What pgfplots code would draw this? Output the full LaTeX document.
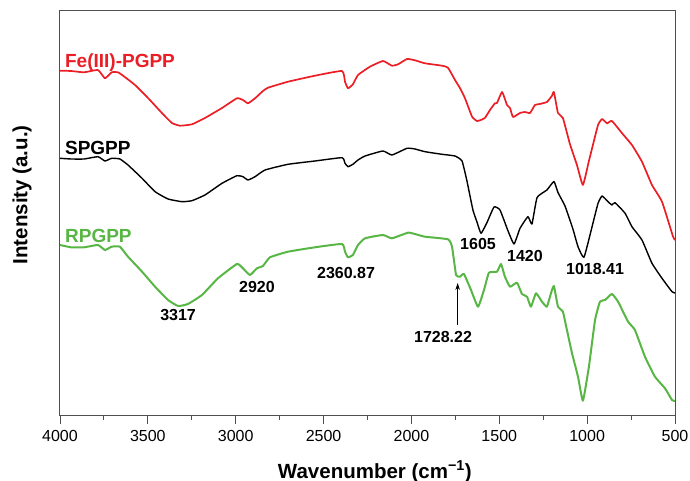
\documentclass[border=0pt]{standalone}
\usepackage{fontspec}
\setmainfont{Liberation Sans}
\usepackage{pgfplots}
\pgfplotsset{compat=1.18}
\usetikzlibrary{arrows.meta}
\definecolor{fered}{RGB}{235,30,38}
\definecolor{rgreen}{RGB}{88,182,68}
\definecolor{framegray}{RGB}{80,80,80}
\begin{document}
\begin{tikzpicture}
\path[use as bounding box] (0,0) rectangle (690pt,481pt);
\begin{axis}[
 at={(60pt,65pt)}, anchor=south west,
 width=615pt, height=405pt, scale only axis,
 xmin=500, xmax=4000, x dir=reverse,
 ymin=0, ymax=405,
 ytick=\empty,
 xtick={500,1000,...,4000},
 minor x tick num=1,
 xtick pos=bottom,
 tick align=outside,
 major tick length=8pt, minor tick length=4.5pt,
 axis line style={framegray, line width=1pt},
 every tick/.style={framegray, line width=0.9pt},
 /pgf/number format/assume math mode=true,
 /pgf/number format/1000 sep={},
 xticklabel style={font=\fontsize{16}{19}\selectfont, text=black, yshift=-3pt},
 xlabel={Wavenumber (cm\textsuperscript{−1})},
 ylabel={Intensity (a.u.)},
 label style={font=\bfseries\fontsize{20.5}{24}\selectfont},
 xlabel style={at={(axis description cs:0.512,-0.137)}, anchor=center},
 ylabel style={at={(axis description cs:-0.0618,0.546)}, anchor=center},
 clip=false,
 every axis plot/.append style={line join=round, smooth, tension=0.25},
]
% Fe(III)-PGPP
\addplot[fered, line width=1.7pt] coordinates {
(4000,345.3)(3937,345)(3863,343.7)(3784,346)(3744,337.7)(3706,343.7)(3670,343.7)(3641,340.3)
(3573,331)(3499,318)(3420,303)(3363,293)(3317,290.3)(3249,291.7)(3175,298)(3078,308)
(2993,317.7)(2959,316)(2930,312.7)(2890,317.7)(2845,325)(2816,328.3)(2702,334.3)(2549,340.3)
(2395,345)(2378,334.3)(2361,327.7)(2333,331.7)(2304,341)(2236,349.3)(2162,355)(2111,350.3)
(2076,351.7)(2025,357)(1980,355.7)(1923,352.7)(1826,350.3)(1792,348.3)(1752,336)(1724,328)
(1695,317.7)(1655,299.3)(1627,295)(1610,295.7)(1582,298)(1553,306)(1525,312.7)(1513,313)
(1484,324)(1456,311)(1439,308)(1422,299)(1382,303)(1354,304)(1325,303)(1297,311)
(1269,312)(1229,314)(1200,320.3)(1189,324)(1166,303)(1138,298)(1098,272)(1058,251)
(1024,231)(990,255)(972,267.7)(938,291)(915,297)(887,292.7)(859,295)(801,282.7)(745,271)
(688,254.3)(631,231)(574,214.3)(511,179.3)(500,176)
};
% SPGPP
\addplot[black, line width=1.4pt] coordinates {
(4000,257.7)(3937,257)(3863,257)(3784,259.3)(3744,255)(3706,257.7)(3659,257)(3613,251)
(3533,237.7)(3459,224.3)(3385,217)(3306,214.3)(3249,215.3)(3175,221)(3078,232.7)(2993,240.3)
(2959,239.3)(2930,236)(2890,239.3)(2833,246)(2702,251.7)(2549,255)(2395,258.3)(2378,252.7)
(2361,249.3)(2333,251.7)(2304,256)(2264,260)(2162,265)(2111,261)(2025,267.7)(1980,267)
(1923,264.3)(1826,261.7)(1752,260)(1712,255)(1684,235)(1650,206)(1627,194)(1604,182.7)
(1570,193.5)(1530,209)(1496,206)(1450,185)(1416,172)(1382,187.7)(1337,199.3)(1314,192)
(1285,218.5)(1229,226)(1189,234.5)(1166,223.5)(1126,210)(1081,187)(1052,169.3)(1018,158.7)
(972,189.3)(938,212.7)(915,220)(881,214.3)(859,211)(841,213.3)(784,202.7)(745,189.3)
(688,176)(631,152.7)(574,137.7)(517,124.3)(500,123)
};
% RPGPP
\addplot[rgreen, line width=2pt] coordinates {
(4000,171)(3937,168.7)(3863,168.7)(3784,171)(3744,166)(3706,169.3)(3659,169.3)(3613,159.3)
(3533,144.3)(3459,129.3)(3385,116)(3328,110)(3272,112)(3192,121)(3101,137.7)(2993,152)
(2959,147.7)(2919,141)(2879,147.7)(2845,150)(2805,158.7)(2702,164.3)(2549,168.7)(2395,172)
(2378,164.3)(2361,158.7)(2333,161)(2304,171)(2264,177.7)(2162,181)(2111,177.7)(2020,183.3)
(1980,182)(1923,179.3)(1792,176.7)(1769,169.3)(1746,141)(1724,139.3)(1701,142)(1661,126)
(1621,109.3)(1587,126)(1559,143.3)(1513,144.3)(1490,152)(1468,139.3)(1439,129.3)(1399,133.3)
(1371,122)(1342,119.3)(1320,109.3)(1291,122.7)(1257,114.3)(1229,109.3)(1206,122.7)(1189,130)
(1166,109.3)(1138,104.3)(1115,86)(1086,62.7)(1052,39.3)(1024,15.3)(990,49.3)(955,96)
(927,114.3)(898,116)(859,122)(824,114.3)(767,94.3)(728,86)(671,59.3)(614,39.3)
(557,27.7)(517,16)(500,15)
};
% curve labels
\node[anchor=base west, inner sep=0, text=fered, font=\bfseries\fontsize{19}{23}\selectfont] at (axis cs:3972,348) {Fe(III)-PGPP};
\node[anchor=base west, inner sep=0, text=black, font=\bfseries\fontsize{19}{23}\selectfont] at (axis cs:3972,261) {SPGPP};
\node[anchor=base west, inner sep=0, text=rgreen, font=\bfseries\fontsize{19}{23}\selectfont] at (axis cs:3972,173) {RPGPP};
% peak annotations
\begin{scope}[every node/.style={inner sep=0, font=\bfseries\fontsize{16}{19}\selectfont}]
\node at (axis cs:3328,101) {3317};
\node at (axis cs:2879,129.3) {2920};
\node at (axis cs:2372,143) {2360.87};
\node at (axis cs:1621,171.7) {1605};
\node at (axis cs:1354,160) {1420};
\node at (axis cs:955,146.7) {1018.41};
\node at (axis cs:1820,78.7) {1728.22};
\end{scope}
\draw[line width=0.6pt, -{Stealth[length=7pt,width=4.5pt]}] (axis cs:1737,91) -- (axis cs:1737,133);
\end{axis}
\end{tikzpicture}
\end{document}
